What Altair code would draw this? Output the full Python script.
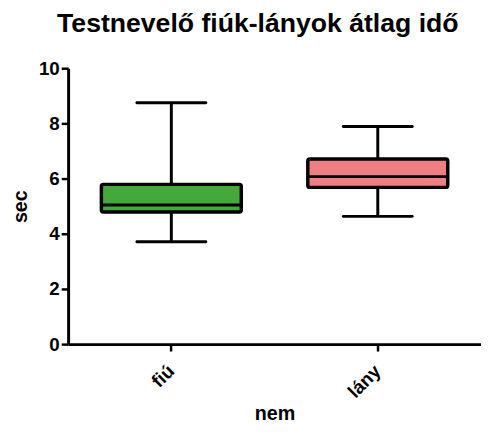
import altair as alt
import pandas as pd

groups = ["fiú", "lány"]
mins = [3.71, 4.63]
q1s = [4.79, 5.68]
medians = [5.04, 6.07]
q3s = [5.79, 6.71]
maxs = [8.75, 7.89]
colors = ["#42a93a", "#f07f83"]

df = pd.DataFrame({"nem": groups, "lo": mins, "q1": q1s, "med": medians,
                   "q3": q3s, "hi": maxs, "col": colors})

FONT = "Liberation Sans"
x = alt.X("nem:N", title="nem", sort=groups,
          scale=alt.Scale(paddingInner=0, paddingOuter=0),
          axis=alt.Axis(labelAngle=-45, labelFontSize=19, labelFontWeight="bold",
                        labelFont=FONT, labelColor="black", titleFont=FONT,
                        titleFontSize=20, titleFontWeight="bold", titleColor="black",
                        domainWidth=3, domainColor="black", tickWidth=2.5,
                        tickColor="black", tickSize=7, labelPadding=17,
                        titlePadding=3, labelAlign="right", labelBaseline="middle"))
yscale = alt.Scale(domain=[0, 10])
yaxis = alt.Axis(values=[0, 2, 4, 6, 8, 10], grid=False, labelFontSize=19,
                 labelFontWeight="bold", labelFont=FONT, labelColor="black",
                 titleFont=FONT, titleFontSize=20, titleFontWeight="bold",
                 titleColor="black", domainWidth=3, domainColor="black",
                 tickWidth=2.5, tickColor="black", tickSize=7, labelPadding=2,
                 titlePadding=8)

base = alt.Chart(df).encode(x=x)

whisker = base.mark_rule(color="black", strokeWidth=3, opacity=1).encode(
    y=alt.Y("lo:Q", title="sec", scale=yscale, axis=yaxis), y2="hi:Q")
caps_lo = base.mark_tick(color="black", thickness=3, size=73, opacity=1,
                         cornerRadius=1.5).encode(y=alt.Y("lo:Q"))
caps_hi = base.mark_tick(color="black", thickness=3, size=73, opacity=1,
                         cornerRadius=1.5).encode(y=alt.Y("hi:Q"))
box = base.mark_bar(size=142, stroke="black", strokeWidth=3.5, cornerRadius=2,
                    opacity=1).encode(
    y="q1:Q", y2="q3:Q", fill=alt.Fill("col:N", scale=None))
med = base.mark_tick(color="black", thickness=3, size=142, opacity=1).encode(y="med:Q")

chart = alt.layer(whisker, caps_lo, caps_hi, box, med).properties(
    width=419, height=280,
    title=alt.TitleParams("Testnevelő fiúk-lányok átlag idő", font=FONT,
                          fontSize=27, fontWeight="bold", color="black",
                          offset=22, dx=-17),
    autosize=alt.AutoSizeParams(type="none"),
    padding={"left": 61, "top": 58, "right": 0, "bottom": 80},
).configure_view(stroke=None)

chart.save("out.html", embed_options={"renderer": "svg", "actions": False})
